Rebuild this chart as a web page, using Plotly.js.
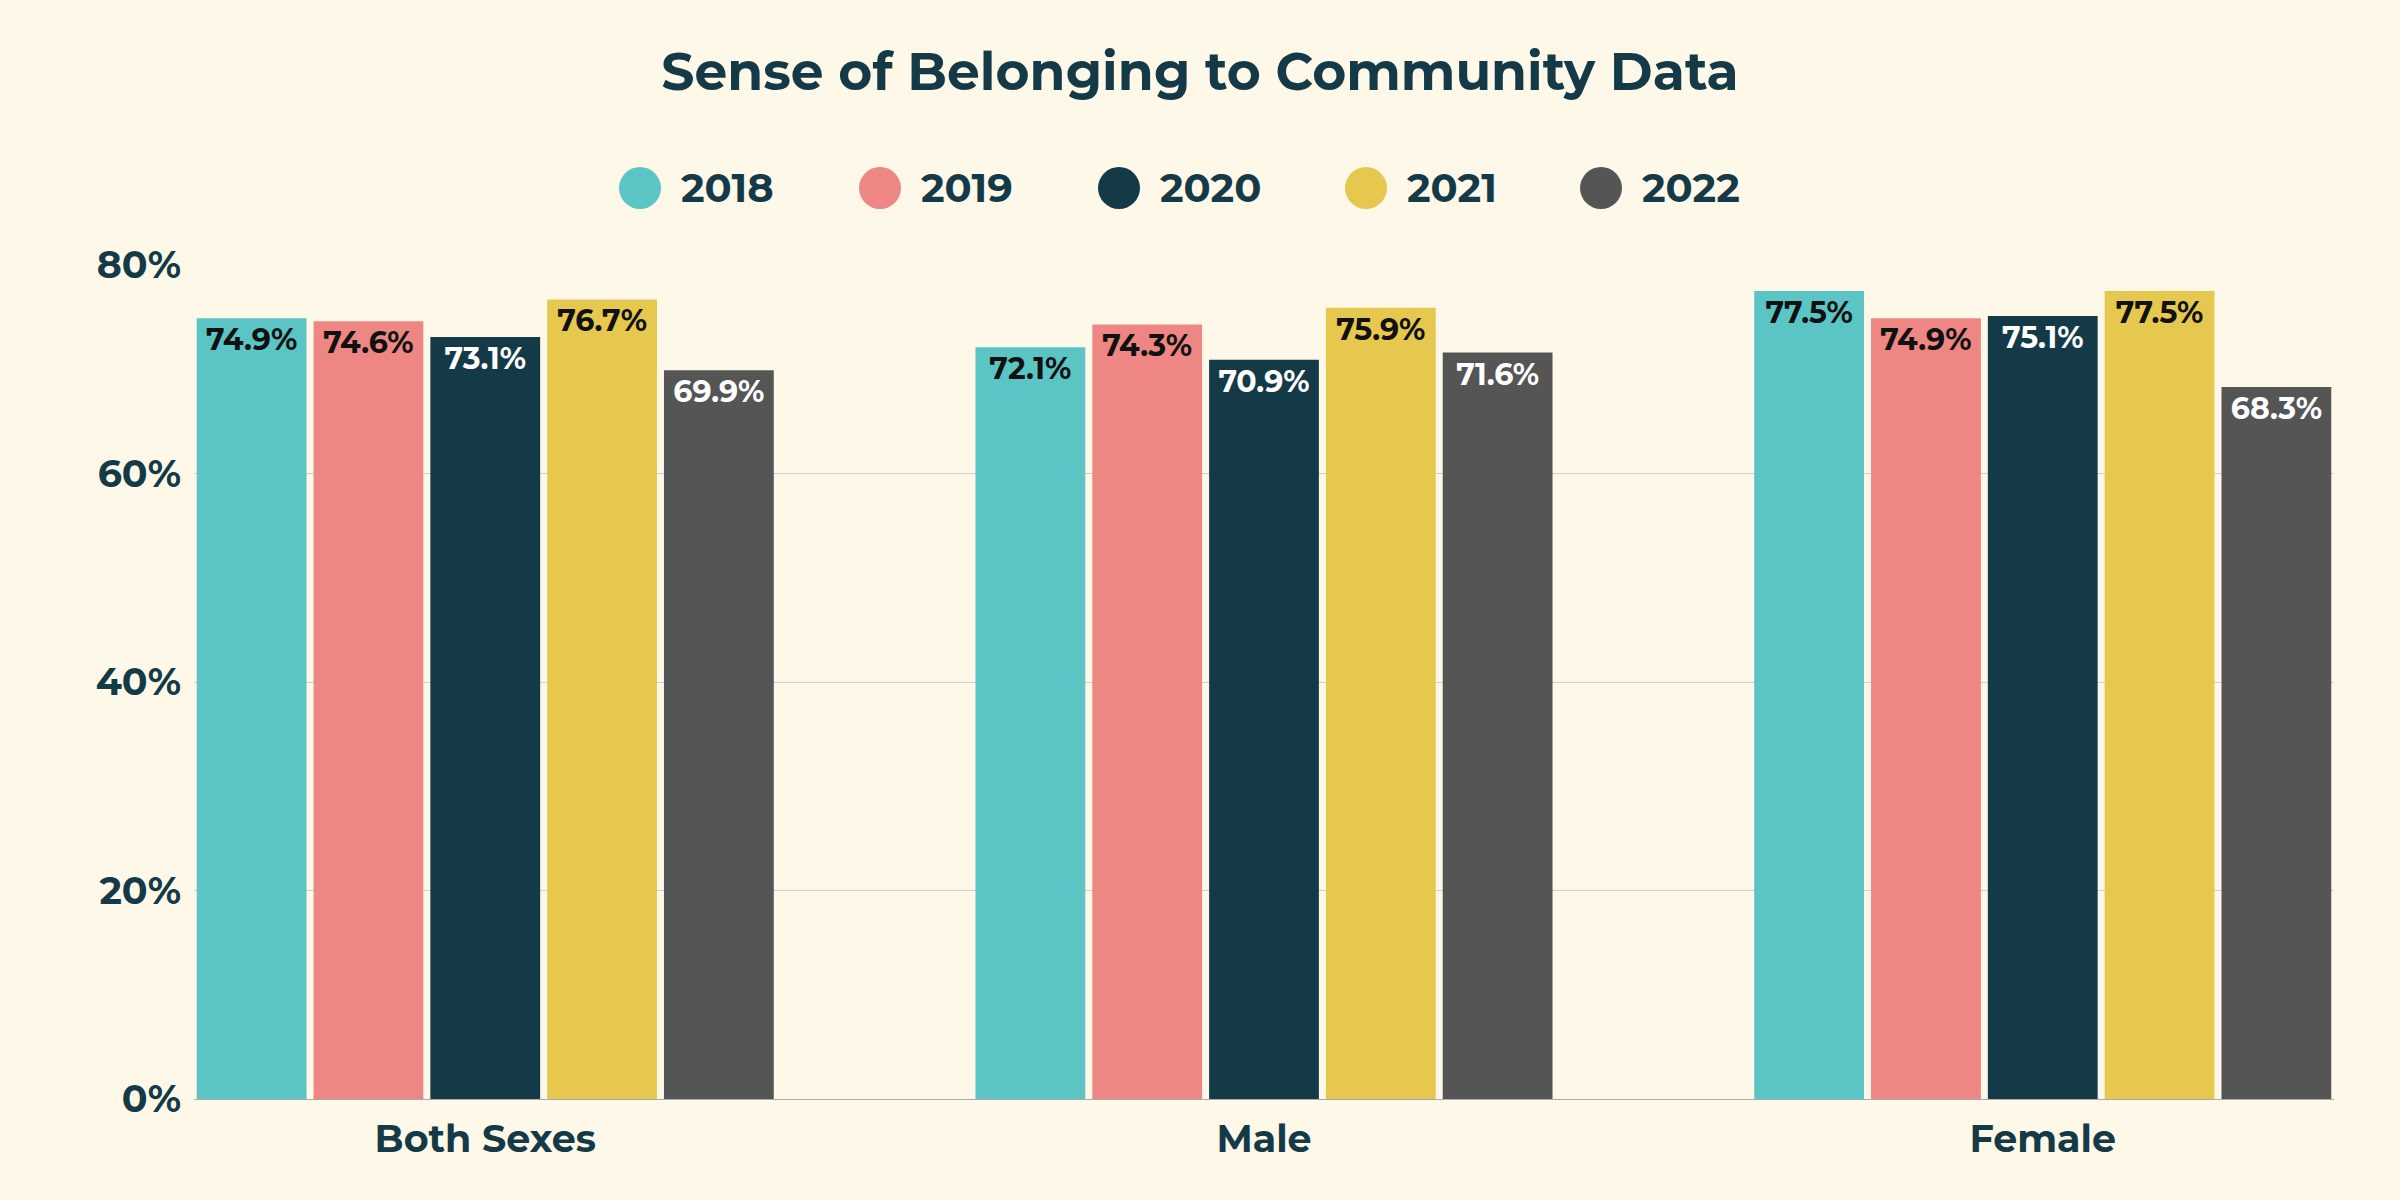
<!DOCTYPE html>
<html>
<head>
<meta charset="utf-8">
<script src="https://cdn.plot.ly/plotly-3.0.1.min.js"></script>
<style>html,body{margin:0;padding:0;background:#FEF8E8;}</style>
</head>
<body>
<div id="chart" style="width:2400px;height:1200px;"></div>
<script>
const categories = ["Both Sexes", "Male", "Female"];
const years = ["2018", "2019", "2020", "2021", "2022"];
const v2018 = [74.9, 72.1, 77.5];
const v2019 = [74.6, 74.3, 74.9];
const v2020 = [73.1, 70.9, 75.1];
const v2021 = [76.7, 75.9, 77.5];
const v2022 = [69.9, 71.6, 68.3];

const series = [v2018, v2019, v2020, v2021, v2022];
const colors = ["#5BC5C5", "#EE8683", "#143A47", "#E6C84E", "#555555"];
const labelColors = ["#111", "#111", "#fff", "#111", "#fff"];
const font = "Montserrat, 'Open Sans', sans-serif";
const dark = "#143A47";

const traces = series.map((vals, i) => ({
  type: "bar", x: categories, y: vals, name: years[i], showlegend: false,
  marker: { color: colors[i] },
  texttemplate: "%{y:.1f}%", textposition: "inside", insidetextanchor: "end",
  constraintext: "none",
  textfont: { color: labelColors[i], size: 30, family: font, weight: 700 },
  hoverinfo: "none",
}));

// hand-drawn legend with large circles (pixel positions in the page)
const W = 2400, H = 1200;
const legendX = [640, 880, 1119, 1366, 1601];
const legendY = 188;
const r = 21;
const shapes = [];
const annotations = [];
years.forEach((yr, i) => {
  const cx = legendX[i];
  shapes.push({
    type: "circle", xref: "paper", yref: "paper", line: { width: 0 },
    fillcolor: colors[i],
    x0: (cx - r - 194) / (W - 194 - 66), x1: (cx + r - 194) / (W - 194 - 66),
    y0: (1099 - legendY - r) / (1099 - 265), y1: (1099 - legendY + r) / (1099 - 265),
  });
  annotations.push({
    text: "<b>" + yr + "</b>", showarrow: false, xref: "paper", yref: "paper",
    x: (cx + r + 18 - 194) / (W - 194 - 66), y: (1099 - legendY) / (1099 - 265),
    xanchor: "left", yanchor: "middle",
    font: { size: 40, color: dark, family: font },
  });
});

const layout = {
  width: W, height: H,
  paper_bgcolor: "#FEF8E8", plot_bgcolor: "#FEF8E8",
  margin: { l: 194, r: 66, t: 265, b: 101 },
  title: { text: "<b>Sense of Belonging to Community Data</b>", x: 0.5, xanchor: "center",
    y: 1 - 72 / 1200, yanchor: "middle",
    font: { size: 52, color: dark, family: font } },
  showlegend: false,
  barmode: "group", bargap: 0.25, bargroupgap: 0.06,
  shapes: shapes, annotations: annotations,
  xaxis: { range: [-0.374, 2.374], tickfont: { size: 38, color: dark, family: font, weight: 700 },
    showgrid: false, showline: true, linecolor: "#aaa", linewidth: 1, ticks: "",
    ticklabelstandoff: 6 },
  yaxis: { range: [0, 80], dtick: 20, ticksuffix: "%", gridcolor: "#cfd0c8", gridwidth: 1,
    zeroline: false, tickfont: { size: 38, color: dark, family: font, weight: 700 },
    ticklabelstandoff: 12 },
};

Plotly.newPlot("chart", traces, layout, { displayModeBar: false, staticPlot: true });
</script>
</body>
</html>
